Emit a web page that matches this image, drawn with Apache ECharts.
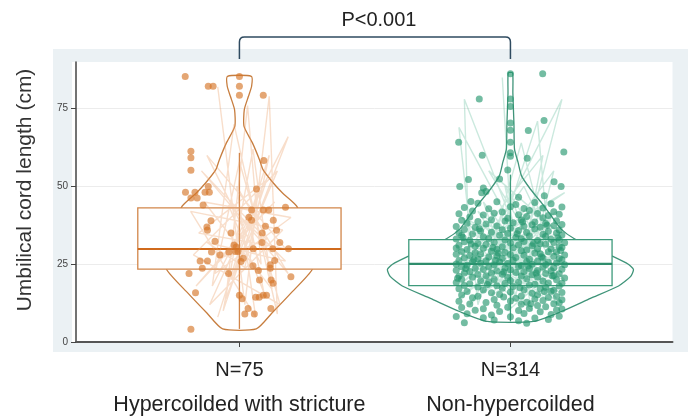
<!DOCTYPE html>
<html>
<head>
<meta charset="utf-8">
<script src="https://cdn.jsdelivr.net/npm/echarts@6/dist/echarts.min.js"></script>
<style>
html, body { margin: 0; padding: 0; background: #fff; }
#chart { width: 688px; height: 416px; }
</style>
</head>
<body>
<div id="chart"></div>
<script>
var groupNames = ['Hypercoilded with stricture', 'Non-hypercoilded'];
var groupN = [75, 314];
var groupPos = [1, 2];
var pLabel = 'P<0.001';
var yTitle = 'Umbilical cord length (cm)';
var yTicks = [0, 25, 50, 75];

// whisker low, q1, median, q3, whisker high
var orangeBox = [4.2, 23.4, 29.9, 43.1, 60.8];
var greenBox = [6.6, 18.1, 25.1, 32.9, 53.8];

// violin outline, top to bottom: [value, half width]
var orangeViolin = [[85.4, 0.044], [82.2, 0.045], [78.9, 0.033], [74.7, 0.018], [69.3, 0.017], [64, 0.048],
  [58.6, 0.074], [55.4, 0.087], [51.1, 0.125], [47.9, 0.159], [43.6, 0.212], [35, 0.245], [28, 0.262],
  [23.4, 0.269], [15.7, 0.19], [9.3, 0.12], [4.2, 0.062]];
var greenViolin = [[86.5, 0.008], [80, 0.009], [70, 0.013], [62, 0.015], [57.8, 0.028], [53.4, 0.041],
  [49.1, 0.074], [44.8, 0.114], [40.5, 0.151], [36.2, 0.188], [33.2, 0.236], [30, 0.314], [27.6, 0.376],
  [25, 0.435], [23.3, 0.454], [21, 0.443], [18, 0.399], [14, 0.295], [9.8, 0.188], [6.6, 0.085]];

// jittered points: [offset from group, value]
var orangePoints = [
  [-0.20, 85.3], [-0.115, 82.2], [-0.097, 82.2], [0, 85.3], [0, 82.2], [0, 79.3], [0.088, 79.3],
  [-0.179, 61.3], [-0.179, 59.2], [-0.179, 55.2], [0.09, 58.3],
  [-0.199, 48.1], [-0.164, 48.1], [-0.127, 48.1], [-0.111, 48.1], [-0.115, 50.0],
  [-0.179, 46.3], [-0.156, 46.3], [0.063, 49.2], [-0.134, 44.0],
  [0.045, 42.4], [0.088, 42.4], [0.108, 42.4], [0.17, 43.3],
  [0.035, 40.1], [0.045, 39.1], [0.125, 39.1], [-0.105, 39.0], [0.096, 37.2], [-0.12, 37.0], [-0.118, 35.9], [0.137, 35.9], [0.084, 35.0], [-0.031, 35.0],
  [0.083, 32.0], [0.149, 32.0], [-0.02, 31.2], [-0.012, 30.5], [-0.005, 29.1], [-0.015, 29.1], [0.051, 30.0], [0.123, 30.0], [0.181, 30.0],
  [-0.103, 28.9], [-0.072, 28.0], [-0.039, 28.9], [0.014, 26.9], [0.006, 25.9], [-0.145, 26.0], [-0.118, 26.0], [-0.137, 23.7],
  [0.07, 23.0], [0.114, 24.8], [0.114, 23.7], [-0.186, 22.0], [0.074, 19.9], [0.117, 19.9], [0.124, 18.9], [0.19, 21.0],
  [-0.162, 15.8], [0, 15.0], [0.01, 13.9], [0.06, 14.4], [0.073, 14.4], [0.088, 15.0], [0.1, 15.0],
  [0.032, 10.8], [0.116, 10.8], [0.02, 9.0], [0.055, 9.0], [-0.179, 4.1],
  [-0.09, 32.4], [0.05, 24.5], [-0.04, 22.0], [0.13, 26.2]
];
var greenPoints = [
  [0, 86.2], [0.119, 86.2], [-0.115, 78.1], [0, 78.1], [0, 75.7], [0, 70.4], [0, 68.1], [0, 64.2], [0, 60.8], [0, 59.7],
  [0.124, 71.2], [0.066, 68.0], [-0.191, 64.2], [-0.104, 60.0], [0.197, 61.1], [0.062, 59.1],
  [-0.187, 50.0], [-0.155, 52.2], [-0.04, 52.4], [0.161, 51.5], [0.187, 50.0], [-0.1, 49.5], [-0.09, 48.4], [-0.146, 45.2], [-0.106, 48.0], [0.125, 47.0], [-0.01, 55.3], [0.03, 46.5],
  [-0.12, 44.6], [-0.05, 45.1], [0.02, 44.2], [0.09, 44.8], [0.15, 44.4],
  [-0.17, 43.2], [-0.08, 42.8], [0.0, 43.5], [0.05, 42.9], [0.12, 43.1], [0.19, 43.4],
  [-0.14, 42.1], [-0.03, 41.8], [0.07, 42.3], [0.16, 41.9],
  [-0.19, 41.2], [-0.1, 40.8], [-0.06, 41.4], [0.03, 40.9], [0.1, 41.3], [0.14, 40.7], [0.18, 41.1],
  [-0.15, 40.2], [-0.01, 39.8], [0.06, 40.3], [0.12, 39.9],
  [-0.18, 39.1], [-0.12, 38.7], [-0.07, 39.3], [-0.02, 38.9], [0.04, 39.2], [0.09, 38.6], [0.17, 39.0],
  [-0.16, 38.2], [-0.09, 37.9], [0.01, 38.3], [0.08, 37.7], [0.13, 38.1], [0.19, 37.8],
  [-0.2, 37.1], [-0.13, 36.8], [-0.05, 37.3], [0.0, 36.6], [0.05, 37.2], [0.11, 36.9], [0.16, 37.4],
  [-0.17, 36.2], [-0.11, 35.7], [-0.03, 36.1], [0.03, 35.8], [0.09, 36.3], [0.14, 35.6], [0.18, 36.0],
  [-0.19, 35.1], [-0.14, 34.7], [-0.07, 35.3], [-0.01, 34.9], [0.06, 35.2], [0.12, 34.6], [0.17, 35.0],
  [-0.18, 34.2], [-0.1, 33.8], [-0.04, 34.3], [0.02, 33.7], [0.07, 34.1], [0.13, 33.9], [0.19, 34.4],
  [-0.2, 33.1], [-0.15, 32.7], [-0.08, 33.3], [-0.02, 32.8], [0.04, 33.2], [0.1, 32.6], [0.15, 33.0], [0.18, 32.9],
  [-0.17, 32.2], [-0.12, 31.7], [-0.06, 32.1], [0.0, 31.8], [0.05, 32.3], [0.11, 31.6], [0.16, 32.0], [0.2, 31.9],
  [-0.19, 31.1], [-0.13, 30.8], [-0.09, 31.3], [-0.03, 30.6], [0.03, 31.2], [0.08, 30.9], [0.13, 31.4], [0.18, 30.7],
  [-0.2, 30.2], [-0.16, 29.7], [-0.1, 30.1], [-0.05, 29.8], [0.01, 30.3], [0.06, 29.6], [0.1, 30.0], [0.15, 29.9], [0.19, 30.4],
  [-0.18, 29.1], [-0.13, 28.7], [-0.07, 29.2], [-0.02, 28.8], [0.04, 29.3], [0.09, 28.6], [0.14, 29.0], [0.17, 28.9],
  [-0.2, 28.2], [-0.15, 27.8], [-0.11, 28.3], [-0.05, 27.7], [0.0, 28.1], [0.05, 27.9], [0.11, 28.4], [0.16, 27.6], [0.2, 28.0],
  [-0.17, 27.1], [-0.12, 26.7], [-0.08, 27.3], [-0.03, 26.9], [0.02, 27.2], [0.07, 26.6], [0.12, 27.0], [0.18, 26.8],
  [-0.19, 26.2], [-0.14, 25.8], [-0.09, 26.1], [-0.04, 25.7], [0.01, 26.3], [0.06, 25.9], [0.1, 26.0], [0.14, 25.6], [0.19, 26.4],
  [-0.2, 25.1], [-0.16, 24.7], [-0.11, 25.3], [-0.06, 24.8], [-0.01, 25.2], [0.04, 24.6], [0.08, 25.0], [0.13, 24.9], [0.17, 25.4], [0.2, 24.8],
  [-0.18, 24.2], [-0.13, 23.7], [-0.08, 24.1], [-0.02, 23.8], [0.03, 24.3], [0.07, 23.6], [0.12, 24.0], [0.16, 23.9],
  [-0.2, 23.1], [-0.15, 22.7], [-0.1, 23.3], [-0.05, 22.8], [0.0, 23.2], [0.05, 22.6], [0.1, 23.0], [0.15, 22.9], [0.19, 23.4],
  [-0.17, 22.2], [-0.12, 21.7], [-0.07, 22.1], [-0.03, 21.8], [0.02, 22.3], [0.08, 21.6], [0.13, 22.0], [0.18, 21.9],
  [-0.19, 21.1], [-0.14, 20.8], [-0.09, 21.3], [-0.01, 20.7], [0.04, 21.2], [0.1, 20.9], [0.16, 21.4], [0.2, 20.6],
  [-0.18, 20.2], [-0.11, 19.7], [-0.06, 20.1], [0.0, 19.8], [0.06, 20.3], [0.12, 19.6], [0.17, 20.0],
  [-0.2, 19.1], [-0.15, 18.7], [-0.08, 19.3], [-0.02, 18.8], [0.03, 19.2], [0.09, 18.6], [0.14, 19.0], [0.19, 18.9],
  [-0.17, 18.2], [-0.12, 17.7], [-0.05, 18.1], [0.01, 17.8], [0.07, 18.3], [0.13, 17.6], [0.18, 18.0],
  [-0.19, 17.1], [-0.1, 16.7], [-0.03, 17.3], [0.05, 16.8], [0.11, 17.2], [0.16, 16.6],
  [-0.16, 16.2], [-0.07, 15.8], [0.0, 16.1], [0.08, 15.7], [0.15, 16.3], [0.19, 15.9],
  [-0.18, 15.1], [-0.12, 14.7], [-0.04, 15.3], [0.04, 14.8], [0.1, 15.2], [0.17, 14.6],
  [-0.14, 14.2], [-0.06, 13.7], [0.02, 14.1], [0.09, 13.8], [0.14, 14.3], [0.19, 13.6],
  [-0.19, 13.1], [-0.09, 12.7], [0.0, 13.2], [0.06, 12.8], [0.12, 13.3], [0.18, 12.6],
  [-0.15, 12.2], [-0.05, 11.8], [0.04, 12.1], [0.1, 11.7], [0.16, 12.3],
  [-0.18, 11.1], [-0.1, 10.7], [-0.01, 11.2], [0.07, 10.8], [0.13, 11.3], [0.19, 10.6],
  [-0.13, 10.2], [-0.04, 9.8], [0.03, 10.1], [0.11, 9.7], [0.17, 10.3],
  [-0.16, 9.1], [-0.07, 8.7], [0.05, 9.2], [0.15, 8.8],
  [-0.2, 8.2], [-0.1, 7.8], [0.0, 8.1], [0.09, 7.7], [0.18, 8.3],
  [-0.06, 7.1], [0.03, 6.8], [0.14, 7.2],
  [-0.17, 6.2], [0.06, 6.0],
  [-0.175, 33.6], [-0.065, 30.4], [0.025, 34.8], [0.115, 27.4], [0.185, 29.4], [-0.135, 26.5], [-0.025, 22.5],
  [0.065, 24.4], [0.155, 21.2], [-0.195, 20.5], [-0.085, 18.5], [0.035, 17.4], [0.125, 16.2], [-0.145, 31.5],
  [-0.045, 28.6], [0.085, 31.7], [0.175, 33.5], [-0.115, 36.4], [0.045, 38.6], [-0.165, 23.6], [0.095, 22.2],
  [-0.055, 26.3], [0.135, 37.5], [-0.025, 14.5], [0.075, 12.3]
];

// faint connecting traces seen behind the points
var orangeTrace = [[-0.08, 82], [0.02, 12], [0.11, 79], [0.14, 9], [-0.02, 70], [-0.1, 18], [0.18, 66], [-0.05, 14],
  [0.03, 76], [0.08, 25], [-0.12, 60], [0.17, 30], [-0.15, 35], [0.1, 52], [-0.06, 10], [0.05, 62], [0.12, 17],
  [-0.13, 45], [0.19, 40], [-0.09, 22], [0.0, 58], [0.15, 12], [-0.17, 28], [0.14, 55], [-0.03, 20], [0.07, 47],
  [-0.11, 12], [0.16, 36], [-0.18, 42], [0.06, 8], [-0.01, 50], [0.18, 22], [-0.14, 55], [0.1, 33], [-0.07, 27],
  [0.13, 45], [-0.16, 18], [0.04, 38], [0.09, 16], [-0.04, 44], [0.17, 26], [-0.12, 32], [0.02, 24], [0.11, 60], [-0.08, 8]];
var greenTrace = [[-0.03, 85], [0.0, 40], [-0.17, 78], [-0.15, 20], [0.19, 78], [0.05, 30], [-0.19, 69], [-0.12, 12],
  [0.1, 71], [0.15, 22], [-0.08, 55], [0.18, 35], [-0.2, 25], [0.12, 60], [0.02, 15], [-0.1, 45], [0.17, 14],
  [-0.05, 33], [0.2, 48], [-0.16, 30], [0.08, 10], [-0.02, 50], [0.14, 28], [-0.18, 40], [0.06, 20], [0.16, 55],
  [-0.12, 22], [0.1, 38], [-0.07, 15], [0.19, 30], [-0.14, 35], [0.03, 26], [0.12, 44], [-0.19, 18], [0.0, 32],
  [0.17, 20], [-0.09, 28], [0.07, 42], [-0.15, 12], [0.14, 36], [-0.04, 24], [0.18, 16], [-0.11, 38], [0.09, 24],
  [-0.2, 30], [0.04, 12], [0.15, 40], [-0.06, 20], [0.11, 30], [-0.17, 25], [0.01, 45], [0.13, 15], [-0.13, 28],
  [0.06, 35], [-0.01, 10], [0.19, 25], [-0.08, 36], [0.1, 18], [-0.18, 22], [0.05, 50], [0.16, 30], [-0.1, 16],
  [0.08, 28], [-0.03, 40], [0.2, 20], [-0.15, 32], [0.02, 22], [0.12, 34], [-0.19, 14], [0.0, 28], [0.17, 42],
  [-0.07, 26], [0.09, 14], [-0.12, 42], [0.14, 24], [-0.05, 18], [0.07, 36], [-0.16, 38], [0.11, 20], [-0.02, 30],
  [0.18, 12], [-0.09, 24], [0.04, 64], [0.15, 26]];

var FONT = "'Liberation Sans', Arial, sans-serif";
var orange = { pt: 'rgba(212,116,38,0.8)', line: 'rgba(236,160,105,0.35)', violin: '#c77d3e', box: '#d2864a', med: '#d06a1c' };
var green = { pt: 'rgba(36,150,110,0.8)', line: 'rgba(70,175,138,0.28)', violin: '#3f9479', box: '#3d9a7b', med: '#2f8d6c' };

function shift(list, pos) {
  return list.map(function (p) { return [pos + p[0], p[1]]; });
}

function violinItem(prof, center, color) {
  return function (params, api) {
    var pts = [];
    for (var i = prof.length - 1; i >= 0; i--) pts.push(api.coord([center + prof[i][1], prof[i][0]]));
    for (var j = 0; j < prof.length; j++) pts.push(api.coord([center - prof[j][1], prof[j][0]]));
    return { type: 'polygon', shape: { points: pts, smooth: 0.2 }, style: { fill: 'none', stroke: color, lineWidth: 1.3 } };
  };
}

function boxItem(s, center, c) {
  return function (params, api) {
    var w = 0.375;
    var tl = api.coord([center - w, s[3]]);
    var br = api.coord([center + w, s[1]]);
    var m1 = api.coord([center - w, s[2]]);
    var m2 = api.coord([center + w, s[2]]);
    var lo = api.coord([center, s[0]]);
    var hi = api.coord([center, s[4]]);
    return { type: 'group', children: [
      { type: 'rect', shape: { x: tl[0], y: tl[1], width: br[0] - tl[0], height: br[1] - tl[1] }, style: { fill: '#fff', stroke: c.box, lineWidth: 1.3 } },
      { type: 'line', shape: { x1: hi[0], y1: hi[1], x2: lo[0], y2: lo[1] }, style: { stroke: c.box, lineWidth: 1.3 } },
      { type: 'line', shape: { x1: m1[0], y1: m1[1], x2: m2[0], y2: m2[1] }, style: { stroke: c.med, lineWidth: 2.2 } }
    ] };
  };
}

function bracketItem(params, api) {
  var a = api.coord([groupPos[0], 90]);
  var b = api.coord([groupPos[1], 90]);
  var y0 = a[1] - 3, y1 = a[1] - 25, r = 5;
  var d = 'M' + a[0] + ',' + y0 + ' L' + a[0] + ',' + (y1 + r) + ' Q' + a[0] + ',' + y1 + ' ' + (a[0] + r) + ',' + y1 +
    ' L' + (b[0] - r) + ',' + y1 + ' Q' + b[0] + ',' + y1 + ' ' + b[0] + ',' + (y1 + r) + ' L' + b[0] + ',' + y0;
  return { type: 'group', children: [
    { type: 'path', shape: { pathData: d }, style: { fill: 'none', stroke: '#2f4b60', lineWidth: 1.5 } },
    { type: 'text', style: { x: (a[0] + b[0]) / 2 + 4, y: a[1] - 42, text: pLabel, fill: '#222', font: '20px ' + FONT, align: 'center', verticalAlign: 'middle' } }
  ] };
}

var chart = echarts.init(document.getElementById('chart'));
chart.setOption({
  animation: false,
  backgroundColor: '#fff',
  graphic: [
    { type: 'rect', z: -20, silent: true, shape: { x: 53, y: 49, width: 635, height: 303 }, style: { fill: '#ebf1f4' } },
    { type: 'rect', z: -19, silent: true, shape: { x: 72, y: 62, width: 600.5, height: 280.5 }, style: { fill: '#fff' } },
    { type: 'text', silent: true, x: 25, y: 190, rotation: Math.PI / 2,
      style: { text: yTitle, fill: '#333', font: '21px ' + FONT, align: 'center', verticalAlign: 'middle' } }
  ],
  grid: { left: 76, right: 15.5, top: 62, bottom: 74 },
  xAxis: {
    type: 'value', min: 0.397, max: 2.598,
    axisLine: { show: true, onZero: false, lineStyle: { color: '#555', width: 2 } },
    axisTick: { show: true, customValues: groupPos, length: 5, lineStyle: { color: '#444' } },
    axisLabel: {
      show: true, customValues: groupPos, margin: 11,
      formatter: function (v) {
        var i = groupPos.indexOf(v);
        return '{n|N=' + groupN[i] + '}\n{g|' + groupNames[i] + '}';
      },
      rich: {
        n: { fontSize: 20, lineHeight: 34, color: '#222', fontFamily: FONT },
        g: { fontSize: 21.5, lineHeight: 36, color: '#222', fontFamily: FONT }
      }
    },
    splitLine: { show: false }
  },
  yAxis: {
    type: 'value', min: 0, max: 90, interval: 25,
    axisLine: { show: true, onZero: false, lineStyle: { color: '#444', width: 1.5 } },
    axisTick: { show: true, customValues: yTicks, length: 5, lineStyle: { color: '#444' } },
    axisLabel: { customValues: yTicks, fontSize: 10, color: '#444', margin: 8, fontFamily: FONT },
    splitLine: { show: true, lineStyle: { color: '#ececec' } }
  },
  series: [
    { type: 'custom', z: 1, silent: true, data: [0], renderItem: violinItem(orangeViolin, groupPos[0], orange.violin) },
    { type: 'custom', z: 1, silent: true, data: [0], renderItem: violinItem(greenViolin, groupPos[1], green.violin) },
    { type: 'custom', z: 2, silent: true, data: [0], renderItem: boxItem(orangeBox, groupPos[0], orange) },
    { type: 'custom', z: 2, silent: true, data: [0], renderItem: boxItem(greenBox, groupPos[1], green) },
    { type: 'line', z: 3, silent: true, symbol: 'none', data: shift(orangeTrace, groupPos[0]), lineStyle: { color: orange.line, width: 1.4 } },
    { type: 'line', z: 3, silent: true, symbol: 'none', data: shift(greenTrace, groupPos[1]), lineStyle: { color: green.line, width: 1.4 } },
    { type: 'scatter', z: 4, silent: true, symbolSize: 7, data: shift(orangePoints, groupPos[0]), itemStyle: { color: orange.pt } },
    { type: 'scatter', z: 4, silent: true, symbolSize: 7, data: shift(greenPoints, groupPos[1]), itemStyle: { color: green.pt } },
    { type: 'custom', z: 5, silent: true, clip: false, data: [0], renderItem: bracketItem }
  ]
});
</script>
</body>
</html>
